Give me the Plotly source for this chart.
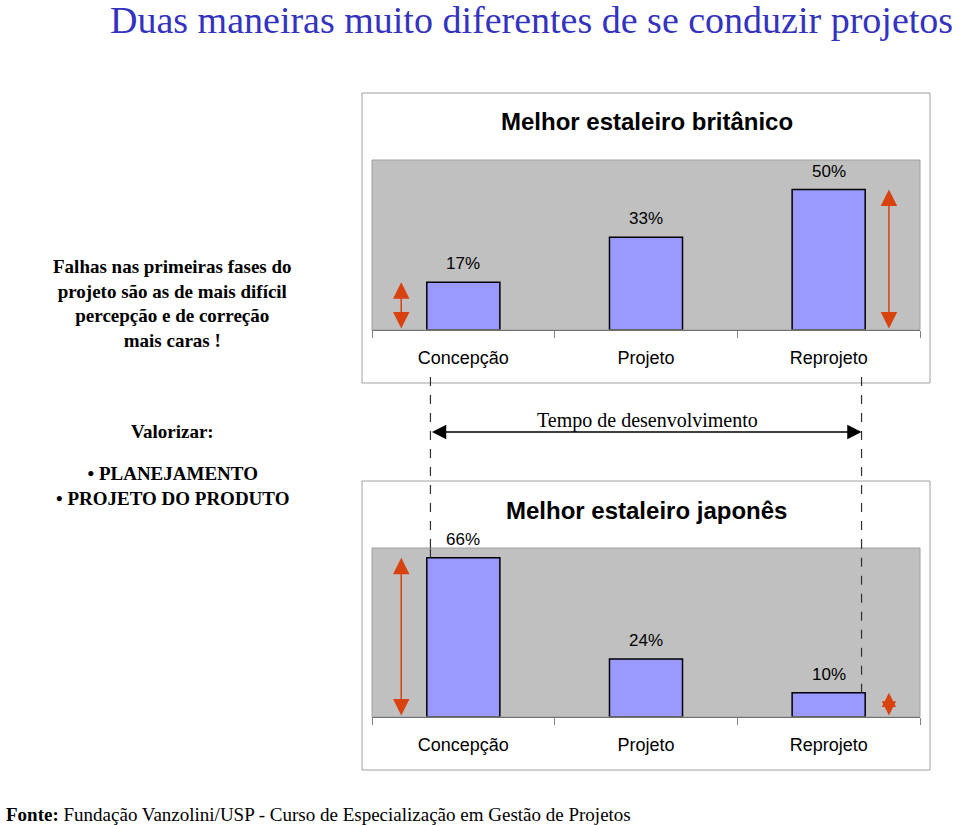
import plotly.graph_objects as go

# ---- data ----
categories = ["Concepção", "Projeto", "Reprojeto"]
britanico = [17, 33, 50]
japones = [66, 24, 10]
title_top = "Melhor estaleiro britânico"
title_bottom = "Melhor estaleiro japonês"

W, H = 960, 825
def px(x):
    return x / W
def py(y):
    return 1 - y / H

BAR = "#9999ff"
BG = "#c0c0c0"
RED = "#d8420f"
SANS = "Liberation Sans, Arial"
SERIF = "Liberation Serif, Times New Roman"

fig = go.Figure()
fig.add_trace(go.Bar(x=categories, y=britanico, xaxis="x", yaxis="y",
                     marker=dict(color=BAR, line=dict(color="black", width=1.5)),
                     width=0.4, showlegend=False, hoverinfo="skip"))
fig.add_trace(go.Bar(x=categories, y=japones, xaxis="x2", yaxis="y2",
                     marker=dict(color=BAR, line=dict(color="black", width=1.5)),
                     width=0.4, showlegend=False, hoverinfo="skip"))

top_dom = [py(330), py(160)]
bot_dom = [py(717), py(548)]
xdom = [px(372), px(920)]

axis_x = dict(type="category", range=[-0.5, 2.5], showgrid=False, zeroline=False,
              showline=True, linecolor="#404040", linewidth=1,
              ticks="outside", tickson="boundaries", ticklen=7, tickcolor="#808080",
              tickfont=dict(family=SANS, size=18, color="black"),
              ticklabelstandoff=11, fixedrange=True)
fig.update_layout(
    width=W, height=H,
    margin=dict(l=0, r=0, t=0, b=0),
    paper_bgcolor="white", plot_bgcolor=BG,
    bargap=0.6,
    xaxis=dict(domain=xdom, anchor="y", **axis_x),
    yaxis=dict(domain=top_dom, range=[0, 60.5], visible=False, fixedrange=True),
    xaxis2=dict(domain=xdom, anchor="y2", **axis_x),
    yaxis2=dict(domain=bot_dom, range=[0, 70], visible=False, fixedrange=True),
)

shapes = []
annotations = []

def text(t, x, y, size, family, color="black", xanchor="center", align="center"):
    annotations.append(dict(text=t, xref="paper", yref="paper", x=px(x), y=py(y),
                            xanchor=xanchor, yanchor="middle", align=align, showarrow=False,
                            font=dict(family=family, size=size, color=color)))

# outer boxes
for (y0, y1) in [(93, 383), (481, 770)]:
    shapes.append(dict(type="rect", xref="paper", yref="paper",
                       x0=px(362), x1=px(930), y0=py(y1), y1=py(y0),
                       line=dict(color="#a0a0a0", width=1), fillcolor="rgba(0,0,0,0)", layer="below"))
# plot area borders
for dom in [top_dom, bot_dom]:
    shapes.append(dict(type="rect", xref="paper", yref="paper",
                       x0=xdom[0], x1=xdom[1], y0=dom[0], y1=dom[1],
                       line=dict(color="#a0a0a0", width=1), fillcolor="rgba(0,0,0,0)", layer="above"))

# chart titles
text("<b>" + title_top + "</b>", 647, 121, 24, SANS)
text("<b>" + title_bottom + "</b>", 646, 510, 24, SANS)

# value labels
for xa, ya, vals in [("x", "y", britanico), ("x2", "y2", japones)]:
    for c, v in zip(categories, vals):
        annotations.append(dict(text=f"{v}%", xref=xa, yref=ya, x=c, y=v,
                                xanchor="center", yanchor="bottom", yshift=7, showarrow=False,
                                font=dict(family=SANS, size=17, color="black")))

# red double arrows (height = value of adjacent bar)
def red_arrow(xa, ya, xpos, val, size=2.2):
    annotations.append(dict(xref=xa, yref=ya, x=xpos, y=val, axref=xa, ayref=ya,
                            ax=xpos, ay=0, showarrow=True, arrowside="end+start",
                            arrowhead=2, startarrowhead=2, arrowsize=size, startarrowsize=size,
                            arrowwidth=1.5, arrowcolor=RED, text=""))
red_arrow("x", "y", -0.34, britanico[0])
red_arrow("x", "y", 2.33, britanico[2])
red_arrow("x2", "y2", -0.34, japones[0])
red_arrow("x2", "y2", 2.33, japones[2], size=1.9)

# dashed guides from top chart to bottom bars
for xpos, val in [(-0.18, japones[0]), (2.18, japones[2])]:
    shapes.append(dict(type="line", xref="x2", yref="y2", x0=xpos, x1=xpos, y0=val, y1=70,
                       line=dict(color="#303030", width=1.2, dash="dash")))
    shapes.append(dict(type="line", xref="x2", yref="paper", x0=xpos, x1=xpos,
                       y0=bot_dom[1], y1=py(375),
                       line=dict(color="#303030", width=1.2, dash="dash")))

# Tempo de desenvolvimento arrow
annotations.append(dict(xref="x2", yref="paper", x=2.18, y=py(432), axref="x2", ayref="pixel",
                        ax=-0.18, ay=0, showarrow=True, arrowside="end+start",
                        arrowhead=2, startarrowhead=2, arrowsize=2.2, startarrowsize=2.2,
                        arrowwidth=1.3, arrowcolor="black", text=""))
text("Tempo de desenvolvimento", 647, 421, 20, SERIF)

# main title
text("Duas maneiras muito diferentes de se conduzir projetos", 955, 20, 38, SERIF,
     color="#3333c0", xanchor="right")

# left side texts
text("<b>Falhas nas primeiras fases do<br>projeto são as de mais difícil<br>"
     "percepção e de correção<br>mais caras !</b>", 172, 304, 19, SERIF)
text("<b>Valorizar:</b>", 172, 431, 19, SERIF)
text("<b>• PLANEJAMENTO<br>• PROJETO DO PRODUTO</b>", 172, 486, 19, SERIF)

# footer
text("<b>Fonte:</b> Fundação Vanzolini/USP - Curso de Especialização em Gestão de Projetos",
     4, 814, 19, SERIF, xanchor="left")

fig.update_layout(shapes=shapes, annotations=annotations)
fig.write_html("out.html", config={"displayModeBar": False},
               post_script="document.body.style.margin='0px';document.body.style.overflow='hidden';")
